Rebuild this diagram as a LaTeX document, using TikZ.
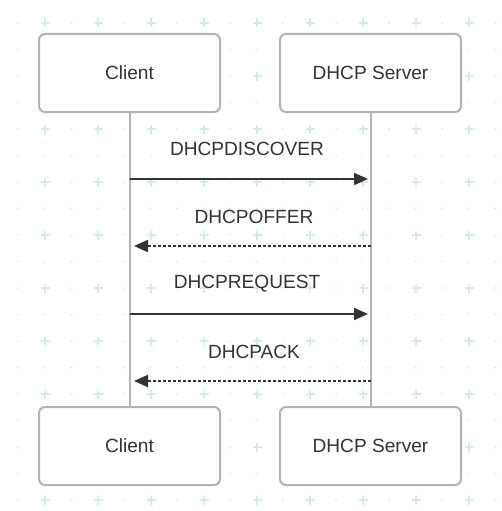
\documentclass[tikz,border=0pt]{standalone}
\usepackage{fontspec}
\setmainfont{Liberation Sans}
\usetikzlibrary{arrows.meta}
\definecolor{gridc}{HTML}{D3ECE9}
\definecolor{boxc}{HTML}{B3B3B3}
\definecolor{inkc}{HTML}{333333}
\tikzset{
  actor/.style={draw=boxc, line width=2pt, rounded corners=6pt, fill=white,
    minimum width=181pt, minimum height=78pt, inner sep=0pt,
    font=\fontsize{19.1}{22}\selectfont, text=inkc},
  lifeline/.style={draw=boxc, line width=2pt},
  msg/.style={draw=inkc, line width=2pt, -{Triangle[length=14pt,width=12pt]}},
  reply/.style={msg, dash pattern=on 3pt off 2pt},
  msglabel/.style={font=\fontsize{19.1}{22}\selectfont, text=inkc, inner sep=0pt}
}
\begin{document}
\begin{tikzpicture}[x=1pt,y=-1pt]
\useasboundingbox[fill=white] (0,0) rectangle (501,511);
% background grid
\foreach \k in {0,...,18}{
  \foreach \m in {0,...,18}{
    \fill[gridc] ({18+26.5*\k},{23+26.5*\m}) circle (1pt);
  }
}
\foreach \i in {0,...,8}{
  \foreach \j in {0,...,9}{
    \draw[gridc, line width=1.6pt] ({45+53*\i-4.5},{23+53*\j}) -- ++(9,0)
      ({45+53*\i},{23+53*\j-4.5}) -- ++(0,9);
  }
}
% actors
\node[actor] (c1) at (129.5,73) {Client};
\node[actor] (s1) at (370.5,73) {DHCP Server};
\node[actor] (c2) at (129.5,446) {Client};
\node[actor] (s2) at (370.5,446) {DHCP Server};
\draw[lifeline] (c1.south) -- (c2.north);
\draw[lifeline] (s1.south) -- (s2.north);
% messages
\coordinate (c-a) at (130,179); \coordinate (s-a) at (368,179);
\coordinate (s-b) at (371,246); \coordinate (c-b) at (134,246);
\coordinate (c-c) at (130,314); \coordinate (s-c) at (368,314);
\coordinate (s-d) at (371,381); \coordinate (c-d) at (134,381);
\draw[msg] (c-a) -- (s-a);
\draw[reply] (s-b) -- (c-b);
\draw[msg] (c-c) -- (s-c);
\draw[reply] (s-d) -- (c-d);
\node[msglabel] (l1) at (247,148.5) {DHCPDISCOVER};
\node[msglabel] (l2) at (254,216.5) {DHCPOFFER};
\node[msglabel] (l3) at (247,283.5) {DHCPREQUEST};
\node[msglabel] (l4) at (254,351.5) {DHCPACK};
\end{tikzpicture}
\end{document}
